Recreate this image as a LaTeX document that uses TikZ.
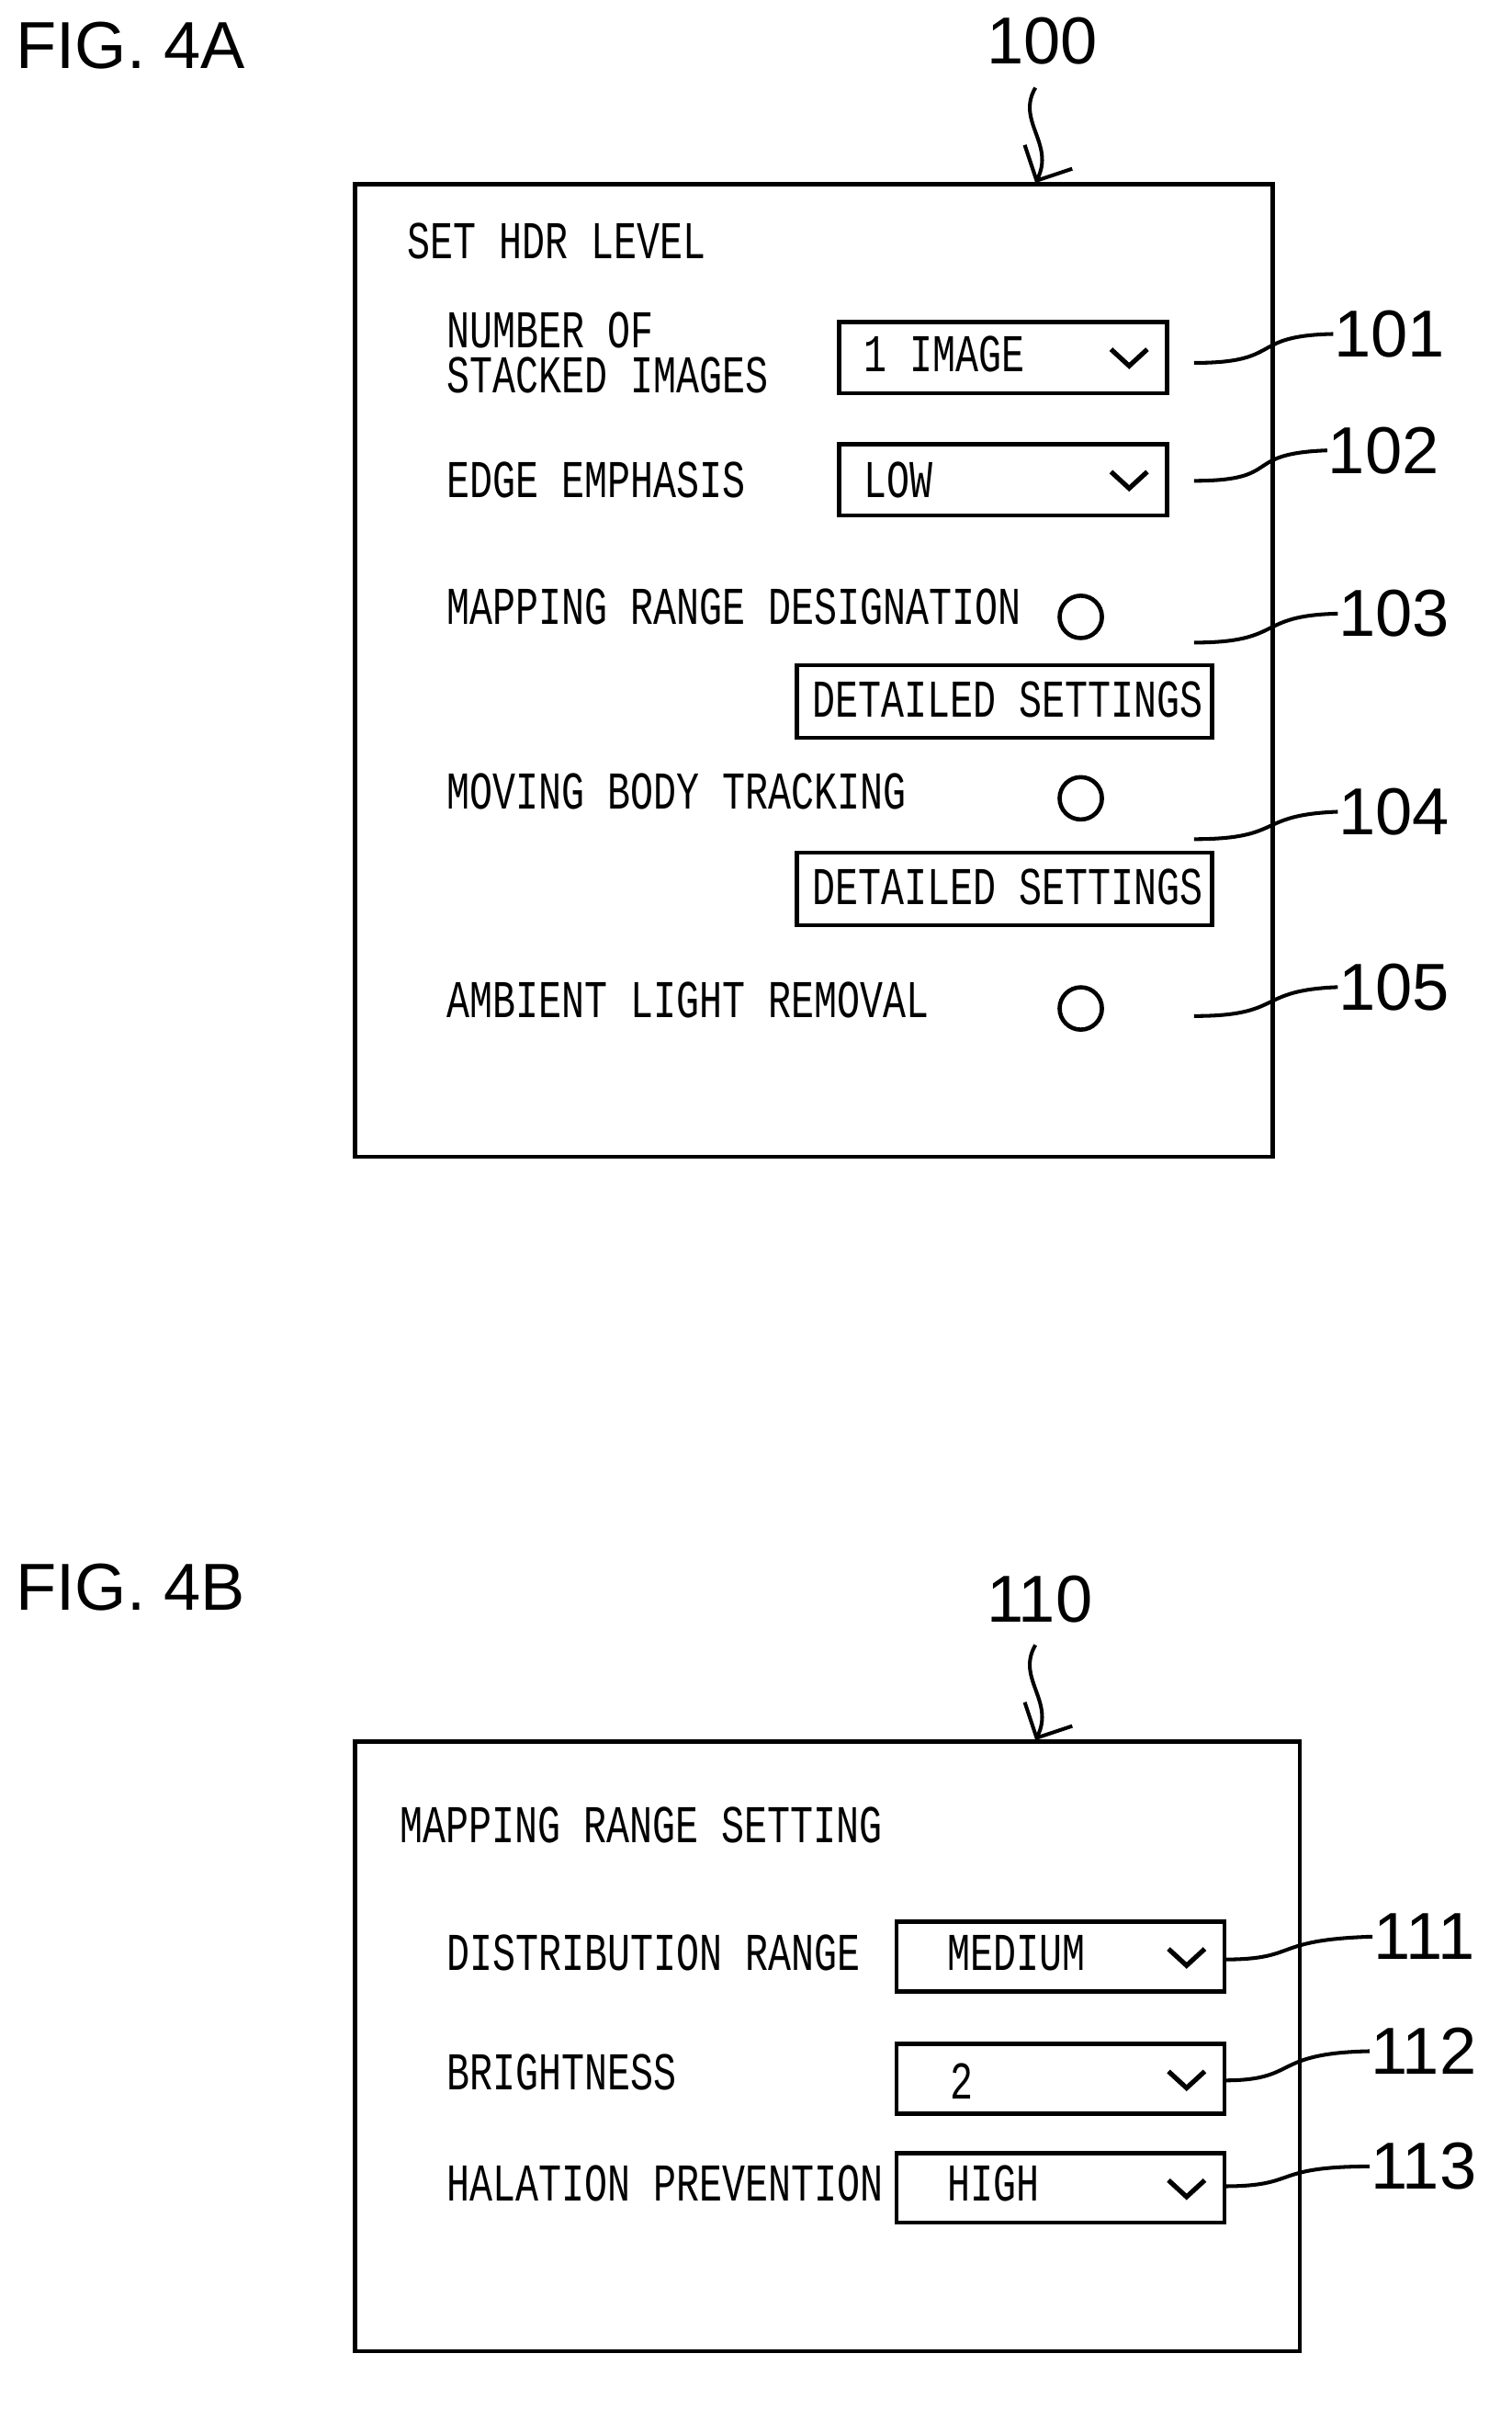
\documentclass[tikz,border=0pt]{standalone}
\usepackage{fontspec}
\setmainfont{Liberation Sans}
\newfontfamily\uifont[FakeStretch=0.72]{Liberation Mono}
\usetikzlibrary{arrows.meta}
\tikzset{
	ui/.style={anchor=base west, inner sep=0pt, font=\uifont\fontsize{10}{12}\selectfont},
	ref/.style={anchor=base west, inner sep=0pt, font=\fontsize{12.5}{14}\selectfont},
	frame/.style={draw, line width=0.8pt},
	leader/.style={line width=0.7pt},
}
\newcommand{\chev}[1]{\draw[line width=0.9pt] ($(#1)+(-12,-5)$) -- ($(#1)+(0,6)$) -- ($(#1)+(12,-5)$);}
\usetikzlibrary{calc}
\begin{document}
\begin{tikzpicture}[x=0.1mm,y=-0.1mm]
			\useasboundingbox (0,0) rectangle (1000,1594);

			% Figure 4A
			\node[ref] (figA) at (10,45) {FIG.\ 4A};
			\node[ref] (n100) at (652,42) {100};
			\draw[frame] (235,122) rectangle (842,765);
			\coordinate (topA) at (685,121);
			\draw[leader,-{Straight Barb[length=5pt]}] (685,58) .. controls (672,80) and (698,95) .. (topA);

			\node[ui] at (269,171) {SET HDR LEVEL};
			\node[ui] at (295,230) {NUMBER OF};
			\node[ui] at (295,260) {STACKED IMAGES};
			\node[ui] at (295,329) {EDGE EMPHASIS};
			\node[ui] at (295,413) {MAPPING RANGE DESIGNATION};
			\node[ui] at (295,535) {MOVING BODY TRACKING};
			\node[ui] at (295,673) {AMBIENT LIGHT REMOVAL};

			% Drop-downs
			\draw[frame] (555,213) rectangle (772,260);
			\node[ui] at (571,246) {1 IMAGE};
			\chev{747,236}
			\draw[frame] (555,294) rectangle (772,341);
			\node[ui] at (571,329) {LOW};
			\chev{747,317}

			% Radio buttons
			\draw[line width=0.8pt] (715,408) circle (14);
			\draw[line width=0.8pt] (715,528) circle (14);
			\draw[line width=0.8pt] (715,667) circle (14);

			% Buttons
			\draw[frame] (527,440) rectangle (802,488);
			\node[ui] at (537,474) {DETAILED SETTINGS};
			\draw[frame] (527,564) rectangle (802,612);
			\node[ui] at (537,598) {DETAILED SETTINGS};

			% Reference numerals
			\node[ref] (n101) at (882,236) {101};
			\node[ref] (n102) at (878,313) {102};
			\node[ref] (n103) at (885,421) {103};
			\node[ref] (n104) at (885,552) {104};
			\node[ref] (n105) at (885,668) {105};
			\draw[leader] (790,240) .. controls (850,240) and (825,222) .. (n101.west);
			\draw[leader] (790,318) .. controls (850,318) and (820,300) .. (n102.west);
			\draw[leader] (790,425) .. controls (850,425) and (830,407) .. (n103.west);
			\draw[leader] (790,555) .. controls (850,555) and (830,539) .. (n104.west);
			\draw[leader] (790,672) .. controls (850,672) and (830,655) .. (n105.west);

			% Figure 4B
			\node[ref] (figB) at (10,1065) {FIG.\ 4B};
			\node[ref] (n110) at (652,1073) {110};
			\draw[frame] (235,1152) rectangle (860,1555);
			\coordinate (topB) at (685,1151);
			\draw[leader,-{Straight Barb[length=5pt]}] (685,1088) .. controls (672,1110) and (698,1125) .. (topB);

			\node[ui] at (264,1219) {MAPPING RANGE SETTING};
			\node[ui] at (295,1303) {DISTRIBUTION RANGE};
			\node[ui] at (295,1382) {BRIGHTNESS};
			\node[ui] at (295,1456) {HALATION PREVENTION};

			\draw[frame] (593,1271) rectangle (810,1317);
			\node[ui] at (626,1303) {MEDIUM};
			\chev{785,1294}
			\draw[frame] (593,1352) rectangle (810,1398);
			\node[ui] at (628,1388) {2};
			\chev{785,1375}
			\draw[frame] (593,1424) rectangle (810,1470);
			\node[ui] at (626,1456) {HIGH};
			\chev{785,1447}

			\node[ref] (n111) at (908,1296) {111};
			\node[ref] (n112) at (906,1372) {112};
			\node[ref] (n113) at (906,1448) {113};
			\draw[leader] (810,1296) .. controls (860,1296) and (840,1283) .. (n111.west);
			\draw[leader] (810,1376) .. controls (860,1376) and (840,1358) .. (n112.west);
			\draw[leader] (810,1446) .. controls (860,1446) and (840,1433) .. (n113.west);
\end{tikzpicture}
\end{document}
